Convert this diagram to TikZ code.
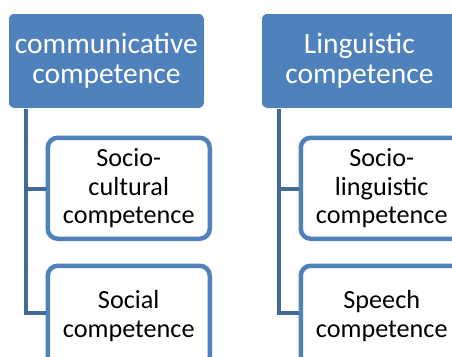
\documentclass[tikz,border=0pt]{standalone}
\usepackage{fontspec}
\setmainfont{Carlito}
\definecolor{hdblue}{HTML}{4F81BD}
\definecolor{lineblue}{HTML}{41699A}
\begin{document}
\begin{tikzpicture}[x=1pt,y=-1pt,
  header/.style={draw=white, line width=0.8pt, fill=hdblue, rounded corners=6pt,
    minimum width=196pt, minimum height=95pt, anchor=north west, inner sep=0pt,
    text=white, align=center, font=\fontsize{29.5}{30}\selectfont},
  child/.style={draw=hdblue, line width=4.5pt, fill=white, rounded corners=10pt,
    minimum width=162pt, minimum height=101pt, anchor=north west, inner sep=0pt,
    text=black, align=center, font=\fontsize{26.2}{28.5}\selectfont},
  conn/.style={draw=lineblue, line width=4pt}]
\useasboundingbox (0,0) rectangle (452,356);
\clip (0,0) rectangle (452,356);
% left column
\node[header] (h1) at (8,13) {communicative\\competence};
\node[child] (a1) at (45.5,135.5) {Socio-\\cultural\\competence};
\node[child] (a2) at (45.5,263.5) {Social\\competence};
% right column
\node[header] (h2) at (261,13) {Linguistic\\competence};
\node[child] (b1) at (298.5,135.5) {Socio-\\linguistic\\competence};
\node[child] (b2) at (298.5,263.5) {Speech\\competence};
% connectors
\draw[conn] ([xshift=17.5pt]h1.south west) |- ([yshift=-1pt]a1.west);
\draw[conn] ([xshift=17.5pt]h1.south west) |- ([yshift=3pt]a2.west);
\draw[conn] ([xshift=17.5pt]h2.south west) |- ([yshift=-1pt]b1.west);
\draw[conn] ([xshift=17.5pt]h2.south west) |- ([yshift=3pt]b2.west);
\end{tikzpicture}
\end{document}
